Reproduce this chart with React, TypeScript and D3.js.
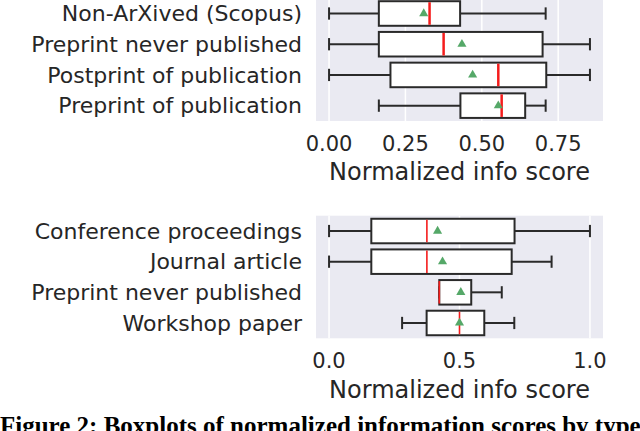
import React, { useEffect, useRef } from "react";
import * as d3 from "d3";

// top panel: arXiv status
const topCategories = [
  "Non-ArXived (Scopus)",
  "Preprint never published",
  "Postprint of publication",
  "Preprint of publication",
];
const topLow = [0, 0, 0, 0.163];
const topQ1 = [0.163, 0.163, 0.201, 0.43];
const topMedian = [0.329, 0.375, 0.554, 0.565];
const topQ3 = [0.429, 0.699, 0.711, 0.642];
const topHigh = [0.709, 0.854, 0.854, 0.709];
const topMean = [0.31, 0.435, 0.47, 0.554];
const topTicks = [0, 0.25, 0.5, 0.75];

// bottom panel: venue type
const botCategories = [
  "Conference proceedings",
  "Journal article",
  "Preprint never published",
  "Workshop paper",
];
const botLow = [0, 0, 0.4225, 0.28];
const botQ1 = [0.162, 0.162, 0.4225, 0.374];
const botMedian = [0.375, 0.375, 0.4225, 0.5];
const botQ3 = [0.711, 0.7, 0.545, 0.595];
const botHigh = [1.0, 0.853, 0.662, 0.71];
const botMean = [0.416, 0.435, 0.505, 0.5];
const botTicks = [0, 0.5, 1.0];

const W = 640;
const H = 431;
const FONT = "DejaVu Sans";
const TEXT = "#262626";

type Panel = {
  cats: string[];
  low: number[];
  q1: number[];
  med: number[];
  q3: number[];
  high: number[];
  mean: number[];
  ticks: number[];
  fmt: string;
  domain: [number, number];
  yRange: [number, number];
  medWidth: number;
};

const drawPanel = (svg: d3.Selection<SVGSVGElement, unknown, null, undefined>, p: Panel) => {
  const left = 316;
  const right = 603;
  const x = d3.scaleLinear().domain(p.domain).range([left, right]);
  const y = d3.scalePoint<string>().domain(p.cats).range(p.yRange).padding(0.5);
  const step = y.step();
  const boxH = step * 0.8;
  const capH = step * 0.4;
  const bottom = p.yRange[1];

  const g = svg.append("g");

  g.append("rect")
    .attr("x", left)
    .attr("y", p.yRange[0])
    .attr("width", right - left)
    .attr("height", p.yRange[1] - p.yRange[0])
    .attr("fill", "#EAEAF2");

  // vertical grid
  g.selectAll(".grid")
    .data(p.ticks)
    .enter()
    .append("line")
    .attr("x1", d => x(d))
    .attr("x2", d => x(d))
    .attr("y1", p.yRange[0])
    .attr("y2", p.yRange[1])
    .attr("stroke", "#fff")
    .attr("stroke-width", 1.5);

  const rows = p.cats.map((c, i) => ({
    c,
    low: p.low[i],
    q1: p.q1[i],
    med: p.med[i],
    q3: p.q3[i],
    high: p.high[i],
    mean: p.mean[i],
  }));

  const row = g
    .selectAll(".row")
    .data(rows)
    .enter()
    .append("g")
    .attr("transform", d => `translate(0,${y(d.c)})`);

  const edge = "#2a2a2a";
  // whiskers
  row.append("line")
    .attr("x1", d => x(d.low))
    .attr("x2", d => x(d.q1))
    .attr("stroke", edge)
    .attr("stroke-width", 2);
  row.append("line")
    .attr("x1", d => x(d.q3))
    .attr("x2", d => x(d.high))
    .attr("stroke", edge)
    .attr("stroke-width", 2);
  // caps
  [(d: any) => x(d.low), (d: any) => x(d.high)].forEach(fx => {
    row.append("line")
      .attr("x1", fx)
      .attr("x2", fx)
      .attr("y1", -capH / 2)
      .attr("y2", capH / 2)
      .attr("stroke", edge)
      .attr("stroke-width", 2);
  });
  // box
  row.append("rect")
    .attr("x", d => x(d.q1))
    .attr("y", -boxH / 2)
    .attr("width", d => x(d.q3) - x(d.q1))
    .attr("height", boxH)
    .attr("fill", "#fff")
    .attr("stroke", edge)
    .attr("stroke-width", 2);
  // median
  row.append("line")
    .attr("x1", d => x(d.med))
    .attr("x2", d => x(d.med))
    .attr("y1", -boxH / 2 + 1)
    .attr("y2", boxH / 2 - 1)
    .attr("stroke", "#f51c1c")
    .attr("stroke-width", p.medWidth);
  // mean
  row.append("path")
    .attr("d", d3.symbol(d3.symbolTriangle, 36)())
    .attr("transform", d => `translate(${x(d.mean)},0)`)
    .attr("fill", "#55A868");

  // category labels
  row.append("text")
    .attr("x", 302)
    .attr("y", 0)
    .attr("dy", "0.35em")
    .attr("text-anchor", "end")
    .attr("font-family", FONT)
    .attr("font-size", 22)
    .attr("fill", TEXT)
    .text(d => d.c);

  // tick labels
  const fmt = d3.format(p.fmt);
  g.selectAll(".tick")
    .data(p.ticks)
    .enter()
    .append("text")
    .attr("x", d => x(d))
    .attr("y", bottom + 22.5)
    .attr("dy", "0.35em")
    .attr("text-anchor", "middle")
    .attr("font-family", FONT)
    .attr("font-size", 21)
    .attr("fill", TEXT)
    .text(d => fmt(d));

  g.append("text")
    .attr("x", (left + right) / 2)
    .attr("y", bottom + 51)
    .attr("dy", "0.35em")
    .attr("text-anchor", "middle")
    .attr("font-family", FONT)
    .attr("font-size", 24)
    .attr("fill", TEXT)
    .text("Normalized info score");
};

export default function App() {
  const ref = useRef<SVGSVGElement>(null);

  useEffect(() => {
    const svg = d3.select(ref.current as SVGSVGElement);
    svg.selectAll("*").remove();

    drawPanel(svg, {
      cats: topCategories,
      low: topLow,
      q1: topQ1,
      med: topMedian,
      q3: topQ3,
      high: topHigh,
      mean: topMean,
      ticks: topTicks,
      fmt: ".2f",
      domain: [-0.0427, 0.8967],
      yRange: [-1.85, 121],
      medWidth: 2.5,
    });

    drawPanel(svg, {
      cats: botCategories,
      low: botLow,
      q1: botQ1,
      med: botMedian,
      q3: botQ3,
      high: botHigh,
      mean: botMean,
      ticks: botTicks,
      fmt: ".1f",
      domain: [-0.05, 1.05],
      yRange: [215.7, 338.3],
      medWidth: 1.6,
    });

    // figure caption, cut by the bottom edge as in the source
    svg.append("text")
      .attr("x", 0)
      .attr("y", 434)
      .attr("font-family", "Liberation Serif")
      .attr("font-weight", "bold")
      .attr("font-size", 25)
      .attr("fill", "#000")
      .text("Figure 2: Boxplots of normalized information scores by type");
  }, []);

  return (
    <svg
      ref={ref}
      width={W}
      height={H}
      style={{ position: "absolute", left: 0, top: 0, background: "#fff" }}
    />
  );
}
